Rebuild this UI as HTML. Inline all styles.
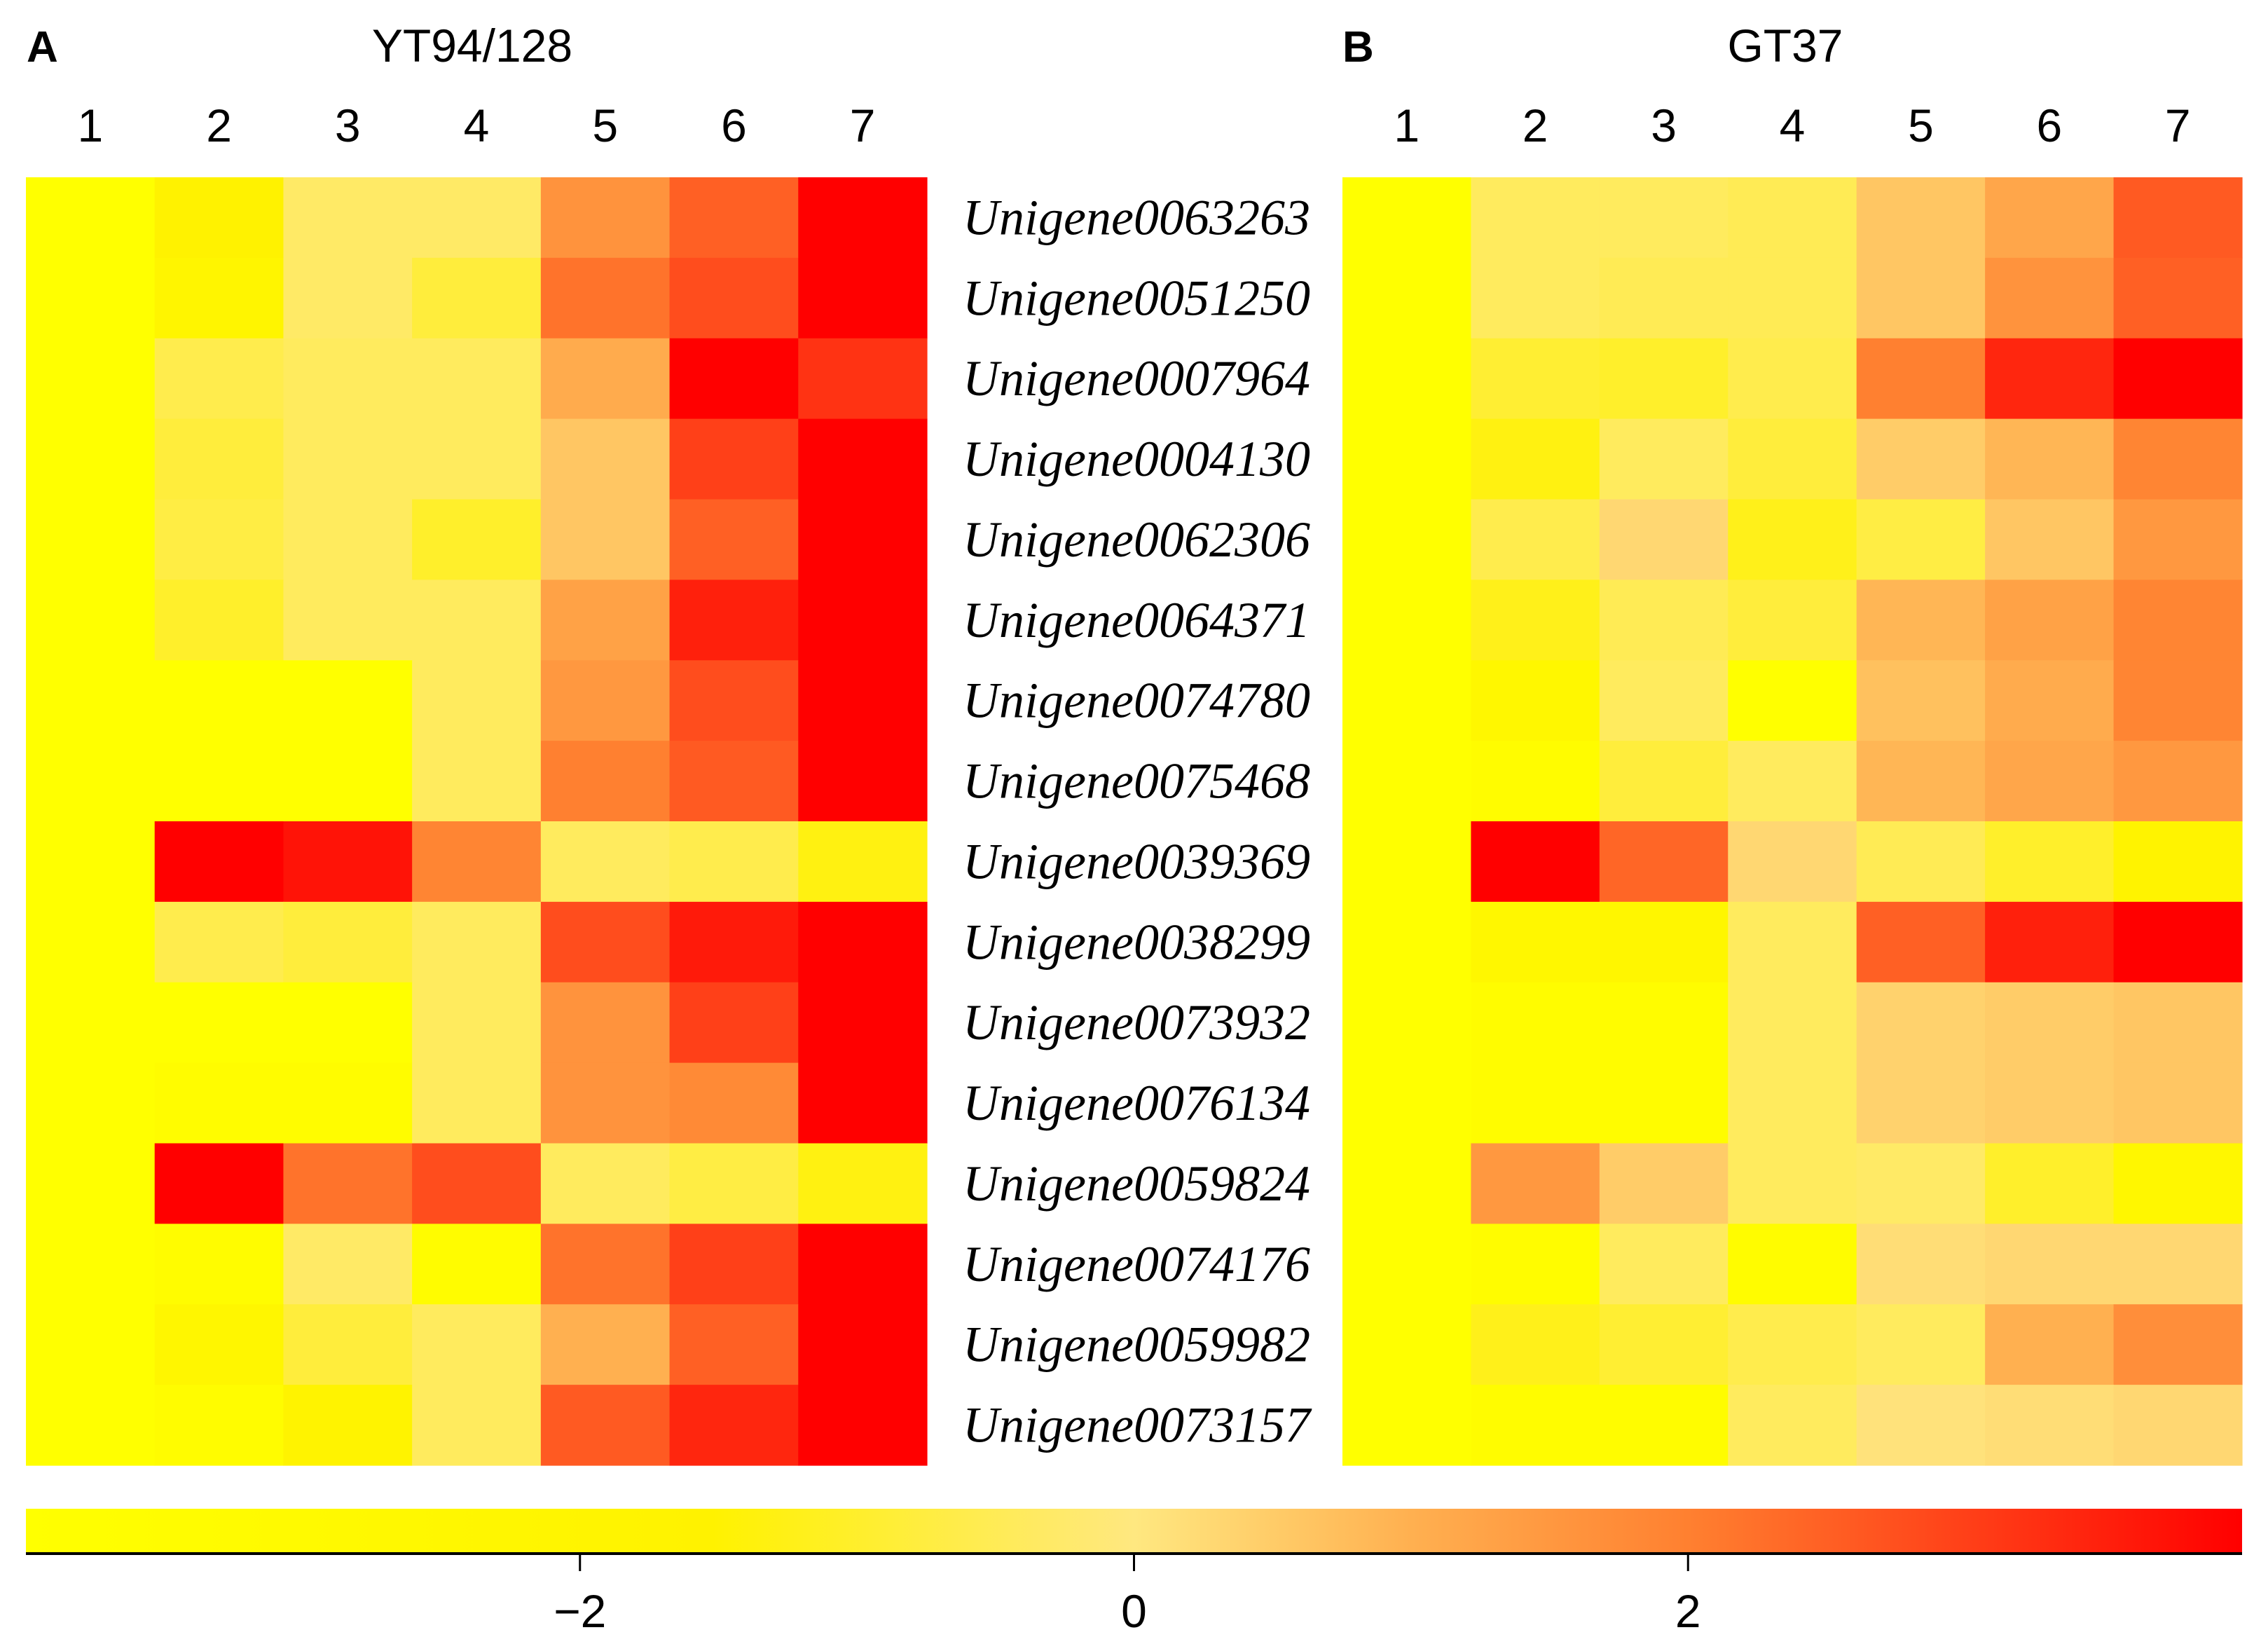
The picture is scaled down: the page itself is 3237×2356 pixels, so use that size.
<!DOCTYPE html>
<html><head><meta charset="utf-8"><style>
html,body{margin:0;padding:0;background:#fff;}
svg{display:block;}
</style></head><body>
<svg id="chart" width="3237" height="2356" viewBox="0 0 3237 2356" xmlns="http://www.w3.org/2000/svg">
<defs>
<linearGradient id="cbar" x1="0" x2="1" y1="0" y2="0">
<stop offset="0" stop-color="#ffff00"/>
<stop offset="0.31" stop-color="#fff200"/>
<stop offset="0.5" stop-color="#ffe880"/>
<stop offset="0.625" stop-color="#ffb050"/>
<stop offset="0.75" stop-color="#ff8030"/>
<stop offset="0.875" stop-color="#ff4018"/>
<stop offset="1" stop-color="#ff0000"/>
</linearGradient>
</defs>
<g font-family="'Liberation Sans', sans-serif" fill="#000">
<text x="38" y="88" font-size="62" font-weight="bold">A</text>
<text x="674" y="88" font-size="66" text-anchor="middle">YT94/128</text>
<text x="1916" y="88" font-size="62" font-weight="bold">B</text>
<text x="2548" y="88" font-size="66" text-anchor="middle">GT37</text>
</g>
<g id="cells"></g>
<g id="labels"></g>
<rect x="37" y="2153" width="3163" height="63" fill="url(#cbar)"/>
<line x1="37" x2="3200" y1="2217" y2="2217" stroke="#000" stroke-width="4"/>
<g id="cticks"></g>
</svg>
<script>
const columns = ["1","2","3","4","5","6","7"];
const genes = ["Unigene0063263","Unigene0051250","Unigene0007964","Unigene0004130","Unigene0062306","Unigene0064371","Unigene0074780","Unigene0075468","Unigene0039369","Unigene0038299","Unigene0073932","Unigene0076134","Unigene0059824","Unigene0074176","Unigene0059982","Unigene0073157"];
const valuesA = [
[-4,-1.5,-0.3,-0.3,1.6,2.5,4],
[-4,-2,-0.3,-0.8,2.2,2.8,4],
[-4,-0.6,-0.4,-0.4,1.1,4,3.2],
[-4,-0.8,-0.4,-0.4,0.6,3.0,4],
[-4,-0.7,-0.4,-1.0,0.6,2.5,4],
[-4,-1.0,-0.4,-0.4,1.3,3.5,4],
[-4,-4,-4,-0.4,1.5,2.8,4],
[-4,-4,-4,-0.4,2.0,2.6,4],
[-4,4,3.7,1.9,-0.4,-0.6,-1.3],
[-4,-0.6,-0.8,-0.4,2.8,3.6,4],
[-4,-4,-4,-0.4,1.6,3.0,4],
[-4,-3.5,-3.5,-0.4,1.6,1.8,4],
[-4,4,2.2,2.8,-0.4,-0.7,-1.3],
[-4,-3.5,-0.3,-3.5,2.2,3.0,4],
[-4,-2.2,-0.8,-0.4,1.0,2.5,4],
[-4,-3.5,-1.6,-0.4,2.6,3.4,4]
];
const valuesB = [
[-4,-0.4,-0.4,-0.5,0.6,1.2,2.6],
[-4,-0.4,-0.5,-0.5,0.6,1.6,2.5],
[-4,-0.9,-1.0,-0.6,2.0,3.4,4],
[-4,-1.3,-0.4,-0.8,0.5,0.9,1.9],
[-4,-0.6,0.3,-1.2,-0.7,0.6,1.5],
[-4,-1.2,-0.5,-0.8,0.9,1.3,1.9],
[-4,-2.5,-0.4,-4,0.7,1.1,1.9],
[-4,-3.5,-0.8,-0.4,0.9,1.2,1.5],
[-4,4,2.4,0.3,-0.5,-1.0,-1.6],
[-4,-2.5,-2.3,-0.4,2.5,3.5,4],
[-4,-3.5,-3.5,-0.4,0.4,0.5,0.6],
[-4,-3.5,-3.5,-0.4,0.4,0.5,0.6],
[-4,1.5,0.5,-0.4,-0.3,-1.0,-2.5],
[-4,-3.5,-0.4,-3.5,0.2,0.3,0.3],
[-4,-1.2,-0.9,-0.6,-0.4,1.0,1.7],
[-4,-3.5,-3.5,-0.4,0.1,0.2,0.3]
];
const tickValues = [-2,0,2];
const tickLabels = ["\u22122","0","2"];

const NS="http://www.w3.org/2000/svg";
const stops=[[-4,[255,255,0]],[-1.5,[255,242,0]],[0,[255,232,128]],[1,[255,176,80]],[2,[255,128,48]],[3,[255,64,24]],[4,[255,0,0]]];
function color(v){
  v=Math.max(-4,Math.min(4,v));
  for(let i=0;i<stops.length-1;i++){
    const [a,ca]=stops[i],[b,cb]=stops[i+1];
    if(v<=b){const t=(v-a)/(b-a);return 'rgb('+ca.map((c,k)=>Math.round(c+(cb[k]-c)*t)).join(',')+')';}
  }
  return 'rgb(255,0,0)';
}
const top0=253, rowH=(2091-253)/16;
function yRow(i){return top0+i*rowH;}
function cbX(v){return 37+(v+4)/8*3163;}
function makePanel(vals,x0,x1,key){
  const cw=(x1-x0)/7;
  const g=document.getElementById('cells');
  columns.forEach((c,j)=>{
    const t=document.createElementNS(NS,'text');
    
    
    t.setAttribute('x',x0+cw*(j+0.5));t.setAttribute('y',202);
    t.setAttribute('font-size','66');t.setAttribute('text-anchor','middle');
    t.setAttribute('font-family',"'Liberation Sans', sans-serif");
    t.textContent=c;g.appendChild(t);
  });
  vals.forEach((row,i)=>row.forEach((v,j)=>{
    const r=document.createElementNS(NS,'rect');
    
    
    r.setAttribute('x',x0+cw*j);r.setAttribute('y',yRow(i));
    r.setAttribute('width',cw+0.6);r.setAttribute('height',rowH+0.6);
    r.setAttribute('fill',color(v));g.appendChild(r);
  }));
}
makePanel(valuesA,37,1323,'a');
makePanel(valuesB,1916,3200,'b');
const lg=document.getElementById('labels');
genes.forEach((gname,i)=>{
  const t=document.createElementNS(NS,'text');
  
  
  t.setAttribute('x',1622);t.setAttribute('y',yRow(i)+rowH/2+24);
  t.setAttribute('font-size','72');t.setAttribute('font-style','italic');
  t.setAttribute('text-anchor','middle');
  t.setAttribute('font-family',"'Liberation Serif', serif");
  t.textContent=gname;lg.appendChild(t);
});
const tg=document.getElementById('cticks');
tickValues.forEach((v,i)=>{
  const l=document.createElementNS(NS,'line');
  
  
  l.setAttribute('x1',cbX(v));l.setAttribute('x2',cbX(v));
  l.setAttribute('y1',2217);l.setAttribute('y2',2242);
  l.setAttribute('stroke','#000');l.setAttribute('stroke-width','3');tg.appendChild(l);
  const t=document.createElementNS(NS,'text');
  
  
  t.setAttribute('x',cbX(v));t.setAttribute('y',2322);
  t.setAttribute('font-size','66');t.setAttribute('text-anchor','middle');
  t.setAttribute('font-family',"'Liberation Sans', sans-serif");
  t.textContent=tickLabels[i];tg.appendChild(t);
});
</script>
</body></html>
